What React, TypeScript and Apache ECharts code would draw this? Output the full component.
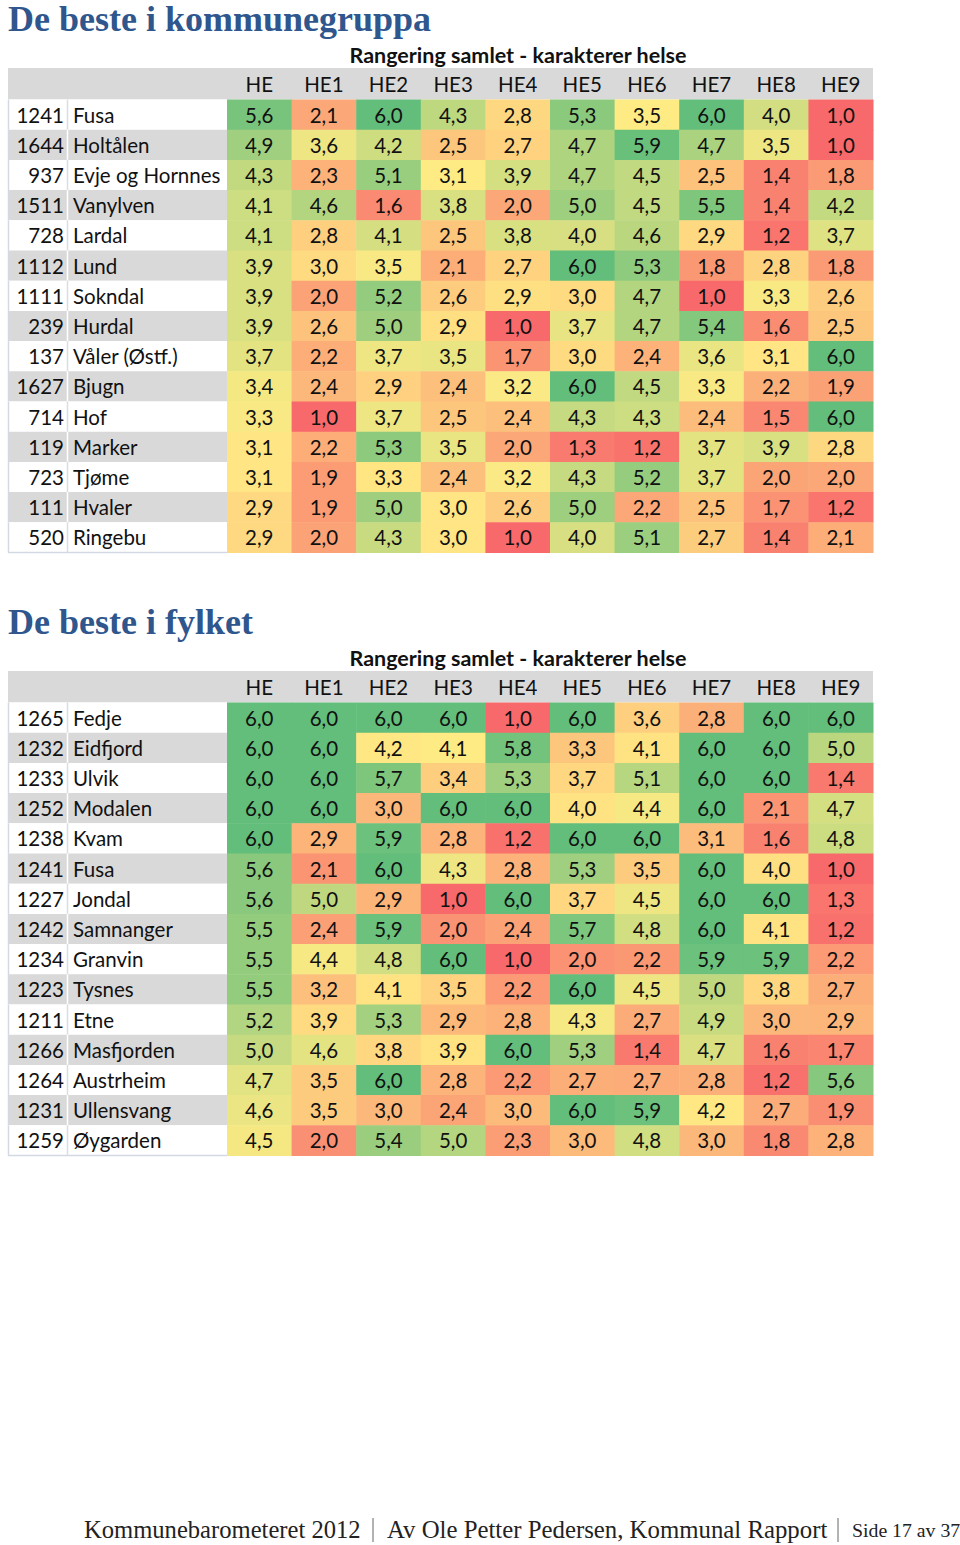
import React, { useEffect, useRef } from "react";
import * as echarts from "echarts";

// ---------- data ----------
const COLUMNS = ["HE", "HE1", "HE2", "HE3", "HE4", "HE5", "HE6", "HE7", "HE8", "HE9"];

const TITLE_GROUP = "De beste i kommunegruppa";
const TITLE_COUNTY = "De beste i fylket";
const SUBTITLE = "Rangering samlet - karakterer helse";

const GROUP_CODES = ["1241", "1644", "937", "1511", "728", "1112", "1111", "239", "137", "1627", "714", "119", "723", "111", "520"];
const GROUP_NAMES = ["Fusa", "Holtålen", "Evje og Hornnes", "Vanylven", "Lardal", "Lund", "Sokndal", "Hurdal", "Våler (Østf.)", "Bjugn", "Hof", "Marker", "Tjøme", "Hvaler", "Ringebu"];
const GROUP_VALUES = [
  [5.6, 2.1, 6.0, 4.3, 2.8, 5.3, 3.5, 6.0, 4.0, 1.0],
  [4.9, 3.6, 4.2, 2.5, 2.7, 4.7, 5.9, 4.7, 3.5, 1.0],
  [4.3, 2.3, 5.1, 3.1, 3.9, 4.7, 4.5, 2.5, 1.4, 1.8],
  [4.1, 4.6, 1.6, 3.8, 2.0, 5.0, 4.5, 5.5, 1.4, 4.2],
  [4.1, 2.8, 4.1, 2.5, 3.8, 4.0, 4.6, 2.9, 1.2, 3.7],
  [3.9, 3.0, 3.5, 2.1, 2.7, 6.0, 5.3, 1.8, 2.8, 1.8],
  [3.9, 2.0, 5.2, 2.6, 2.9, 3.0, 4.7, 1.0, 3.3, 2.6],
  [3.9, 2.6, 5.0, 2.9, 1.0, 3.7, 4.7, 5.4, 1.6, 2.5],
  [3.7, 2.2, 3.7, 3.5, 1.7, 3.0, 2.4, 3.6, 3.1, 6.0],
  [3.4, 2.4, 2.9, 2.4, 3.2, 6.0, 4.5, 3.3, 2.2, 1.9],
  [3.3, 1.0, 3.7, 2.5, 2.4, 4.3, 4.3, 2.4, 1.5, 6.0],
  [3.1, 2.2, 5.3, 3.5, 2.0, 1.3, 1.2, 3.7, 3.9, 2.8],
  [3.1, 1.9, 3.3, 2.4, 3.2, 4.3, 5.2, 3.7, 2.0, 2.0],
  [2.9, 1.9, 5.0, 3.0, 2.6, 5.0, 2.2, 2.5, 1.7, 1.2],
  [2.9, 2.0, 4.3, 3.0, 1.0, 4.0, 5.1, 2.7, 1.4, 2.1],
];
// midpoint (yellow) of each column's colour scale
const GROUP_MIDS = [3.2, 3.3, 3.4, 3.1, 3.1, 3.3, 3.5, 3.2, 3.2, 3.1];

const COUNTY_CODES = ["1265", "1232", "1233", "1252", "1238", "1241", "1227", "1242", "1234", "1223", "1211", "1266", "1264", "1231", "1259"];
const COUNTY_NAMES = ["Fedje", "Eidfjord", "Ulvik", "Modalen", "Kvam", "Fusa", "Jondal", "Samnanger", "Granvin", "Tysnes", "Etne", "Masfjorden", "Austrheim", "Ullensvang", "Øygarden"];
const COUNTY_VALUES = [
  [6.0, 6.0, 6.0, 6.0, 1.0, 6.0, 3.6, 2.8, 6.0, 6.0],
  [6.0, 6.0, 4.2, 4.1, 5.8, 3.3, 4.1, 6.0, 6.0, 5.0],
  [6.0, 6.0, 5.7, 3.4, 5.3, 3.7, 5.1, 6.0, 6.0, 1.4],
  [6.0, 6.0, 3.0, 6.0, 6.0, 4.0, 4.4, 6.0, 2.1, 4.7],
  [6.0, 2.9, 5.9, 2.8, 1.2, 6.0, 6.0, 3.1, 1.6, 4.8],
  [5.6, 2.1, 6.0, 4.3, 2.8, 5.3, 3.5, 6.0, 4.0, 1.0],
  [5.6, 5.0, 2.9, 1.0, 6.0, 3.7, 4.5, 6.0, 6.0, 1.3],
  [5.5, 2.4, 5.9, 2.0, 2.4, 5.7, 4.8, 6.0, 4.1, 1.2],
  [5.5, 4.4, 4.8, 6.0, 1.0, 2.0, 2.2, 5.9, 5.9, 2.2],
  [5.5, 3.2, 4.1, 3.5, 2.2, 6.0, 4.5, 5.0, 3.8, 2.7],
  [5.2, 3.9, 5.3, 2.9, 2.8, 4.3, 2.7, 4.9, 3.0, 2.9],
  [5.0, 4.6, 3.8, 3.9, 6.0, 5.3, 1.4, 4.7, 1.6, 1.7],
  [4.7, 3.5, 6.0, 2.8, 2.2, 2.7, 2.7, 2.8, 1.2, 5.6],
  [4.6, 3.5, 3.0, 2.4, 3.0, 6.0, 5.9, 4.2, 2.7, 1.9],
  [4.5, 2.0, 5.4, 5.0, 2.3, 3.0, 4.8, 3.0, 1.8, 2.8],
];
const COUNTY_MIDS = [4.4, 4.3, 4.3, 4.1, 4.2, 4.2, 4.3, 4.3, 4.3, 4.2];

const SCALE_MIN = 1;
const SCALE_MAX = 6;

const FOOTER_LEFT = "Kommunebarometeret 2012";
const FOOTER_MID = "Av Ole Petter Pedersen, Kommunal Rapport";
const FOOTER_RIGHT = "Side 17 av 37";

// ---------- styling ----------
const SANS = "Lato, 'Noto Sans', sans-serif";
const SERIF = "'Liberation Serif', 'DejaVu Serif', serif";
const TITLE_BLUE = "#2F568D";
const GREY = "#D9D9D9";
const RED = [248, 105, 107];
const YELLOW = [255, 235, 132];
const GREEN = [99, 190, 123];

function mix(a: number[], b: number[], t: number) {
  const k = Math.max(0, Math.min(1, t));
  const c = a.map((v, i) => Math.round(v + (b[i] - v) * k));
  return `rgb(${c[0]},${c[1]},${c[2]})`;
}
function scaleColor(v: number, mid: number) {
  if (v <= mid) return mix(RED, YELLOW, (v - SCALE_MIN) / (mid - SCALE_MIN));
  return mix(YELLOW, GREEN, (v - mid) / (SCALE_MAX - mid));
}
const fmt = (v: number) => v.toFixed(1).replace(".", ",");

const TABLE_LEFT = 8;
const LABEL_W = 219;
const CELL_LEFT = 227;
const CELL_W = 646;
const ROW_H = 30.2;
const FONT_SIZE = 20.5;

function buildTable(
  k: number,
  titleY: number,
  headerTop: number,
  rowsTop: number,
  title: string,
  codes: string[],
  names: string[],
  values: number[][],
  mids: number[]
) {
  const n = codes.length;
  const gLabel = k * 2;
  const gCell = k * 2 + 1;
  const grids = [
    { left: TABLE_LEFT, top: rowsTop, width: LABEL_W, height: ROW_H * n },
    { left: CELL_LEFT, top: rowsTop, width: CELL_W, height: ROW_H * n },
  ];
  const rowIdx = codes.map((_, i) => String(i));
  const xAxes = [
    { type: "value", gridIndex: gLabel, min: 0, max: 1, show: false },
    {
      type: "category",
      gridIndex: gCell,
      data: COLUMNS,
      position: "top",
      axisLine: { show: false },
      axisTick: { show: false },
      splitLine: { show: false },
      axisLabel: {
        margin: (rowsTop - headerTop) / 2,
        verticalAlign: "middle",
        color: "#111",
        fontFamily: SANS,
        fontSize: FONT_SIZE,
      },
      z: 5,
    },
  ];
  const yAxes = [
    { type: "category", gridIndex: gLabel, data: rowIdx, inverse: true, show: false },
    { type: "category", gridIndex: gCell, data: rowIdx, inverse: true, show: false },
  ];
  const labelSeries = {
    type: "custom",
    xAxisIndex: gLabel,
    yAxisIndex: gLabel,
    silent: true,
    data: codes.map((_, i) => [0, i]),
    renderItem: (params: any, api: any) => {
      const i = api.value(1);
      const p = api.coord([0, i]);
      const h = api.size([0, 1])[1];
      const cs = params.coordSys;
      const x0 = cs.x;
      const y0 = p[1] - h / 2;
      const odd = i % 2 === 1;
      const children: any[] = [
        { type: "rect", shape: { x: x0, y: y0, width: cs.width, height: h }, style: { fill: odd ? GREY : "#FFFFFF" } },
        {
          type: "line",
          shape: { x1: x0 + 59.5, y1: y0, x2: x0 + 59.5, y2: y0 + h },
          style: { stroke: odd ? "#FFFFFF" : "#DADDE3", lineWidth: 1.5 },
        },
        {
          type: "line",
          shape: { x1: x0 + 0.5, y1: y0, x2: x0 + 0.5, y2: y0 + h },
          style: { stroke: "#D3D9E4", lineWidth: 1.5 },
        },
        {
          type: "text",
          x: x0 + 56,
          y: p[1],
          style: { text: codes[i], textAlign: "right", textVerticalAlign: "middle", fontFamily: SANS, fontSize: FONT_SIZE, fill: "#111" },
        },
        {
          type: "text",
          x: x0 + 65,
          y: p[1],
          style: { text: names[i], textAlign: "left", textVerticalAlign: "middle", fontFamily: SANS, fontSize: FONT_SIZE, fill: "#111" },
        },
      ];
      if (i === codes.length - 1) {
        children.push({
          type: "line",
          shape: { x1: x0, y1: y0 + h, x2: x0 + cs.width, y2: y0 + h },
          style: { stroke: "#D3D9E4", lineWidth: 1.5 },
        });
      }
      return { type: "group", children };
    },
  };
  const cellData: number[][] = [];
  values.forEach((row, r) => row.forEach((v, c) => cellData.push([c, r, v])));
  const cellSeries = {
    type: "custom",
    xAxisIndex: gCell,
    yAxisIndex: gCell,
    data: cellData,
    silent: true,
    renderItem: (_params: any, api: any) => {
      const c = api.value(0);
      const r = api.value(1);
      const v = api.value(2);
      const p = api.coord([c, r]);
      const s = api.size([1, 1]);
      return {
        type: "group",
        children: [
          {
            type: "rect",
            shape: { x: p[0] - s[0] / 2, y: p[1] - s[1] / 2, width: s[0] + 0.5, height: s[1] + 0.5 },
            style: { fill: scaleColor(v, mids[c]) },
          },
          {
            type: "text",
            x: p[0],
            y: p[1],
            style: { text: fmt(v), textAlign: "center", textVerticalAlign: "middle", fontFamily: SANS, fontSize: FONT_SIZE, fill: "#111" },
          },
        ],
      };
    },
  };
  const graphics = [
    {
      type: "rect",
      z: -10,
      shape: { x: TABLE_LEFT, y: headerTop, width: CELL_LEFT + CELL_W - TABLE_LEFT, height: rowsTop - headerTop },
      style: { fill: GREY },
    },
    {
      type: "text",
      x: TABLE_LEFT,
      y: titleY,
      style: { text: title, fontFamily: SERIF, fontWeight: "bold", fontSize: 36, fill: TITLE_BLUE, textVerticalAlign: "middle" },
    },
    {
      type: "text",
      x: 518,
      y: headerTop - 13,
      style: { text: SUBTITLE, fontFamily: SANS, fontWeight: "bold", fontSize: 21.5, fill: "#111", textAlign: "center", textVerticalAlign: "middle" },
    },
  ];
  return { grids, xAxes, yAxes, series: [labelSeries, cellSeries], graphics };
}

export default function App() {
  const ref = useRef<HTMLDivElement>(null);
  useEffect(() => {
    document.body.style.margin = "0";
    if (!ref.current) return;
    const chart = echarts.init(ref.current, null, { renderer: "svg" });
    const t1 = buildTable(0, 19, 68, 99.5, TITLE_GROUP, GROUP_CODES, GROUP_NAMES, GROUP_VALUES, GROUP_MIDS);
    const t2 = buildTable(1, 622, 671, 702.5, TITLE_COUNTY, COUNTY_CODES, COUNTY_NAMES, COUNTY_VALUES, COUNTY_MIDS);
    const footerY = 1529;
    const footer = [
      { type: "text", x: 84, y: footerY, style: { text: FOOTER_LEFT, fontFamily: SERIF, fontSize: 24.6, fill: "#222", textVerticalAlign: "middle" } },
      { type: "line", shape: { x1: 373, y1: 1518, x2: 373, y2: 1542 }, style: { stroke: "#555", lineWidth: 0.9 } },
      { type: "text", x: 387, y: footerY, style: { text: FOOTER_MID, fontFamily: SERIF, fontSize: 24.8, fill: "#222", textVerticalAlign: "middle" } },
      { type: "line", shape: { x1: 838, y1: 1518, x2: 838, y2: 1542 }, style: { stroke: "#555", lineWidth: 0.9 } },
      { type: "text", x: 852, y: footerY + 1, style: { text: FOOTER_RIGHT, fontFamily: SERIF, fontSize: 19.8, fill: "#222", textVerticalAlign: "middle" } },
    ];
    chart.setOption({
      animation: false,
      backgroundColor: "#FFFFFF",
      grid: [...t1.grids, ...t2.grids],
      xAxis: [...t1.xAxes, ...t2.xAxes],
      yAxis: [...t1.yAxes, ...t2.yAxes],
      series: [...t1.series, ...t2.series],
      graphic: { elements: [...t1.graphics, ...t2.graphics, ...footer] },
    });
    return () => chart.dispose();
  }, []);
  return <div ref={ref} style={{ width: 960, height: 1545 }} />;
}
